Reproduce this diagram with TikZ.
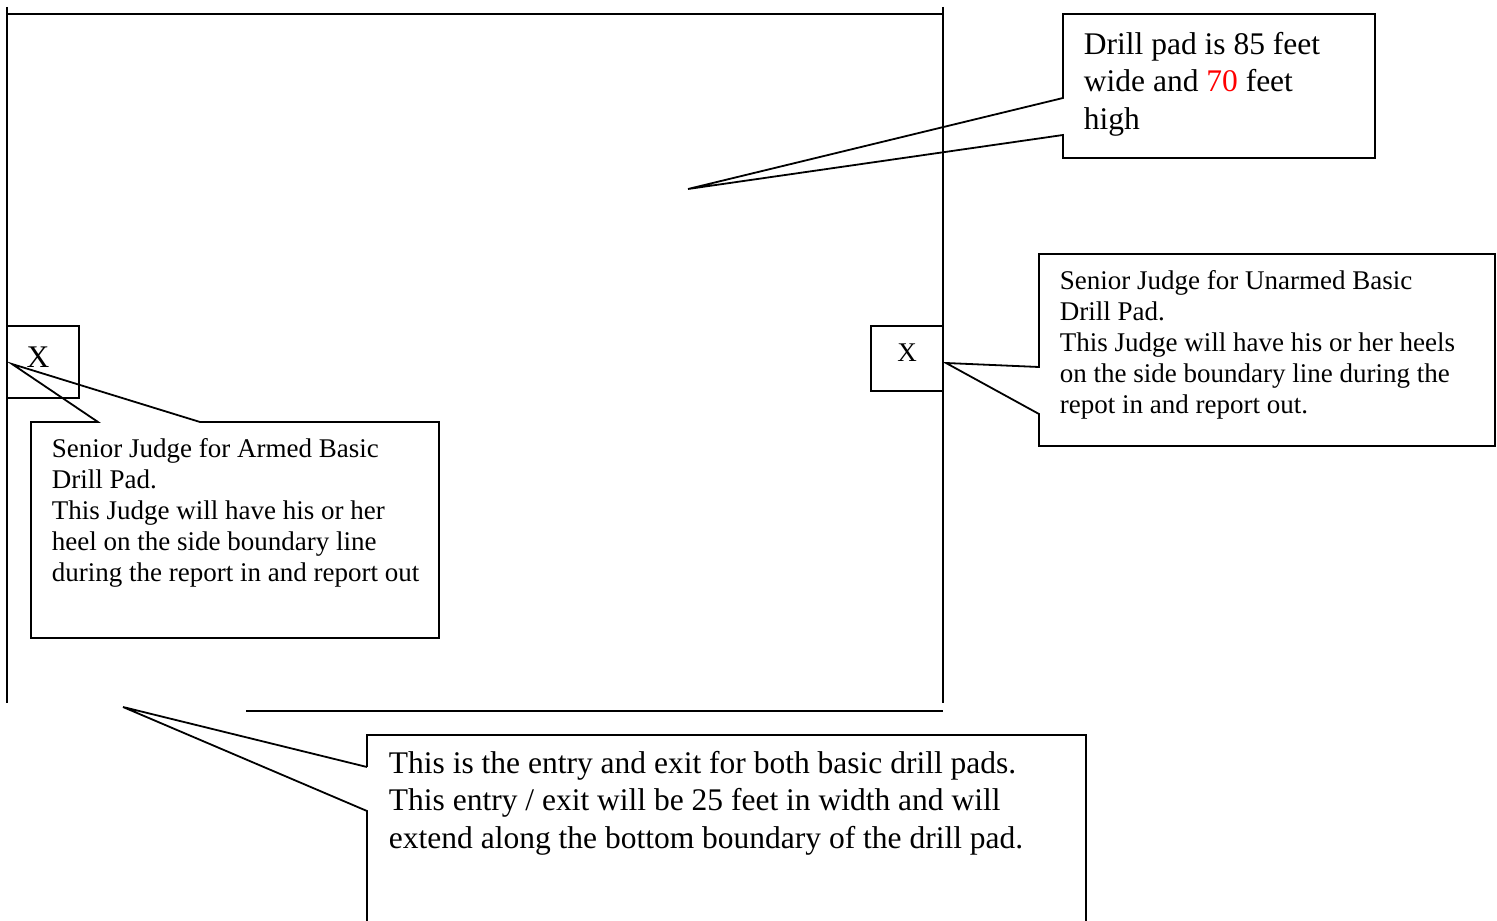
\documentclass[tikz,border=0pt]{standalone}
\usepackage{fontspec}
\setmainfont{Liberation Serif}
\definecolor{numred}{RGB}{255,0,0}
\begin{document}
\begin{tikzpicture}[x=0.4444pt,y=-0.4444pt,line width=0.8pt,
  outline/.style={draw=black,line join=miter},
  bigtext/.style={font=\fontsize{14}{16.8}\selectfont,align=left,anchor=north west,inner sep=0pt},
  smalltext/.style={font=\fontsize{12}{13.7}\selectfont,align=left,anchor=north west,inner sep=0pt},
  marktext/.style={inner sep=0pt}]
\useasboundingbox (0,0) rectangle (1497,921);

% drill pad boundary
\coordinate (padLtop) at (7,7);
\coordinate (padBL) at (7,703);
\coordinate (padTL) at (7,14);
\coordinate (padTR) at (943,14);
\coordinate (padRtop) at (943,7);
\coordinate (padBR) at (943,703);
\coordinate (exitL) at (246,711);
\coordinate (exitR) at (943,711);
\draw[outline] (padLtop) -- (padBL);
\draw[outline] (padTL) -- (padTR);
\draw[outline] (padRtop) -- (padBR);
\draw[outline] (exitL) -- (exitR);

% judge marks
\draw[outline] (7,326) rectangle (79,398);
\node[marktext,font=\fontsize{14}{16.8}\selectfont] (xL) at (38,357) {X};
\draw[outline] (871,326) rectangle (943,391);
\node[marktext,font=\fontsize{12}{13.7}\selectfont] (xR) at (907,353) {X};

% callout: drill pad size
\coordinate (tipPad) at (688,189);
\draw[outline] (1063,98) -- (tipPad) -- (1063,135) -- (1063,158) -- (1375,158) -- (1375,14) -- (1063,14) -- cycle;
\node[bigtext] (padText) at (1083,31) {Drill pad is 85 feet\\wide and \textcolor{numred}{70} feet\\high};

% callout: unarmed judge
\coordinate (tipR) at (946,363);
\draw[outline] (1039,367) -- (tipR) -- (1039,414) -- (1039,446) -- (1495,446) -- (1495,254) -- (1039,254) -- cycle;
\node[smalltext] (rText) at (1059,270) {Senior Judge for Unarmed Basic\\Drill Pad.\\This Judge will have his or her heels\\on the side boundary line during the\\repot in and report out.};

% callout: armed judge
\coordinate (tipL) at (12,364);
\draw[outline] (98,422) -- (tipL) -- (200,422) -- (439,422) -- (439,638) -- (31,638) -- (31,422) -- cycle;
\node[smalltext] (lText) at (51,438) {Senior Judge for Armed Basic\\Drill Pad.\\This Judge will have his or her\\heel on the side boundary line\\during the report in and report out};

% callout: entry / exit
\coordinate (tipB) at (123,707);
\draw[outline] (367,767) -- (tipB) -- (367,811) -- (367,930);
\draw[outline] (367,767) -- (367,735) -- (1086,735) -- (1086,930);
\node[bigtext] (bText) at (388,750) {This is the entry and exit for both basic drill pads.\\This entry / exit will be 25 feet in width and will\\extend along the bottom boundary of the drill pad.};
\end{tikzpicture}
\end{document}
